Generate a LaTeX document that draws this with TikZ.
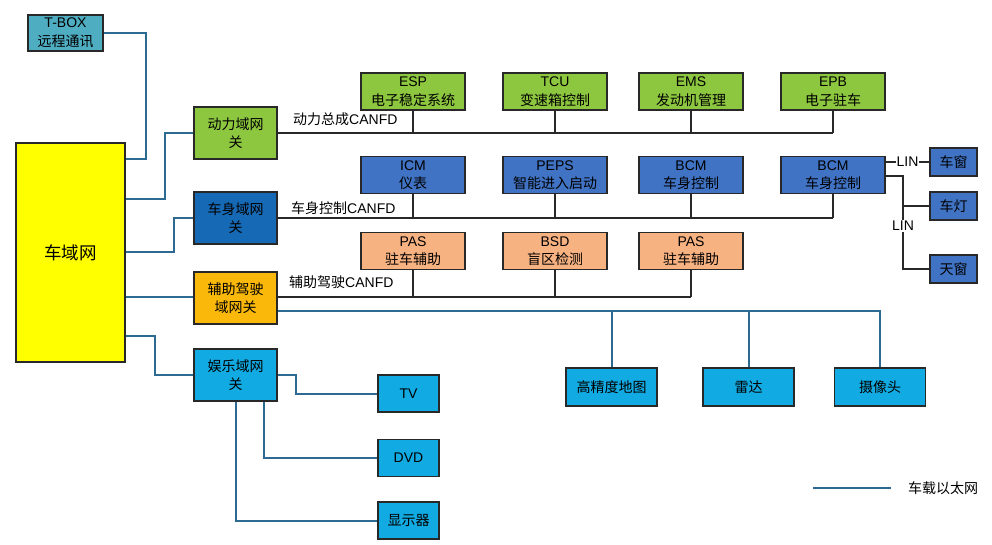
\documentclass[tikz,border=0pt]{standalone}
\usepackage{fontspec}
\setmainfont{Liberation Sans}
\newfontfamily\zh{Noto Sans CJK SC}
\definecolor{cTbox}{RGB}{79,173,194}
\definecolor{cYel}{RGB}{255,255,0}
\definecolor{cGrn}{RGB}{141,198,63}
\definecolor{cDBlu}{RGB}{22,105,180}
\definecolor{cBlu}{RGB}{64,115,196}
\definecolor{cOra}{RGB}{247,178,130}
\definecolor{cAmb}{RGB}{250,185,10}
\definecolor{cLBlu}{RGB}{17,170,226}
\definecolor{cEth}{RGB}{44,106,145}
\definecolor{cBord}{RGB}{40,40,40}
\definecolor{cCan}{RGB}{40,40,40}
\tikzset{
  box/.style={draw=cBord, line width=1.6pt, rectangle, inner sep=0pt, align=center,
    font=\fontsize{14}{18.5}\selectfont},
  ecu/.style={box, minimum width=104pt, minimum height=37pt},
  gw/.style={box, minimum width=83pt, minimum height=52pt},
  leaf/.style={box, minimum width=91pt, minimum height=38pt},
  ent/.style={box, fill=cLBlu, minimum width=61pt, minimum height=37pt},
  lin/.style={box, fill=cBlu, minimum width=47pt, minimum height=28pt},
  eth/.style={draw=cEth, line width=2pt},
  can/.style={draw=cCan, line width=1.3pt},
  linw/.style={draw=cCan, line width=1.1pt},
  lbl/.style={font=\fontsize{14}{16}\selectfont, inner sep=1pt},
}
\begin{document}
\begin{tikzpicture}[x=1pt, y=-1pt]
\useasboundingbox[fill=white] (0,0) rectangle (992,544);

% main nodes
\node[box, fill=cTbox, minimum width=75pt, minimum height=36pt] (tbox) at (65.5,33) {T-BOX\\{\zh 远程通讯}};
\node[box, fill=cYel, minimum width=109pt, minimum height=219pt, font=\fontsize{17.5}{20}\selectfont] (car) at (70.5,252.5) {{\zh 车域网}};

\node[gw, fill=cGrn] (pgw) at (235.5,133) {{\zh 动力域网}\\{\zh 关}};
\node[gw, fill=cDBlu] (bgw) at (235.5,218) {{\zh 车身域网}\\{\zh 关}};
\node[gw, fill=cAmb] (agw) at (235.5,298) {{\zh 辅助驾驶}\\{\zh 域网关}};
\node[gw, fill=cLBlu] (egw) at (235.5,375) {{\zh 娱乐域网}\\{\zh 关}};

% powertrain row
\node[ecu, fill=cGrn] (esp) at (413,91.5) {ESP\\{\zh 电子稳定系统}};
\node[ecu, fill=cGrn] (tcu) at (555,91.5) {TCU\\{\zh 变速箱控制}};
\node[ecu, fill=cGrn] (ems) at (691,91.5) {EMS\\{\zh 发动机管理}};
\node[ecu, fill=cGrn] (epb) at (833,91.5) {EPB\\{\zh 电子驻车}};

% body row
\node[ecu, fill=cBlu] (icm) at (413,175) {ICM\\{\zh 仪表}};
\node[ecu, fill=cBlu] (peps) at (555,175) {PEPS\\{\zh 智能进入启动}};
\node[ecu, fill=cBlu] (bcma) at (691,175) {BCM\\{\zh 车身控制}};
\node[ecu, fill=cBlu] (bcmb) at (833,175) {BCM\\{\zh 车身控制}};

% adas row
\node[ecu, fill=cOra] (pasa) at (413,251) {PAS\\{\zh 驻车辅助}};
\node[ecu, fill=cOra] (bsd) at (555,251) {BSD\\{\zh 盲区检测}};
\node[ecu, fill=cOra] (pasb) at (691,251) {PAS\\{\zh 驻车辅助}};

% LIN nodes
\node[lin] (win) at (953.5,162) {{\zh 车窗}};
\node[lin] (lamp) at (953.5,206) {{\zh 车灯}};
\node[lin] (sky) at (953.5,269) {{\zh 天窗}};

% ethernet leaves
\node[leaf, fill=cLBlu] (map) at (611.5,387) {{\zh 高精度地图}};
\node[leaf, fill=cLBlu] (radar) at (748.5,387) {{\zh 雷达}};
\node[leaf, fill=cLBlu] (cam) at (880,387) {{\zh 摄像头}};

% entertainment leaves
\node[ent] (tv) at (408.5,393.5) {TV};
\node[ent] (dvd) at (408.5,458) {DVD};
\node[ent] (disp) at (408.5,520.5) {{\zh 显示器}};

% ethernet connections from car network
\draw[eth] (car.east |- 0,159) -| ([xshift=42pt]tbox.east) -- (tbox.east);
\draw[eth] (car.east |- 0,199) -| (165,133) -- (pgw.west);
\draw[eth] (car.east |- 0,252) -| (174,218) -- (bgw.west);
\draw[eth] (car.east |- 0,297) -- (agw.west |- 0,297);
\draw[eth] (car.east |- 0,336) -| (155,375) -- (egw.west);

% CAN buses
\draw[can] (pgw.east) -- (epb.south |- pgw.east);
\foreach \n in {esp,tcu,ems,epb} \draw[can] (\n.south) -- (\n.south |- pgw.east);
\node[lbl, anchor=west] (lp) at (292,119) {{\zh 动力总成}CANFD};

\draw[can] (bgw.east) -- (bcmb.south |- bgw.east);
\foreach \n in {icm,peps,bcma,bcmb} \draw[can] (\n.south) -- (\n.south |- bgw.east);
\node[lbl, anchor=west] (lb) at (290,208) {{\zh 车身控制}CANFD};

\draw[can] (agw.east |- 0,297) -- (pasb.south |- 0,297);
\foreach \n in {pasa,bsd,pasb} \draw[can] (\n.south) -- (\n.south |- 0,297);
\node[lbl, anchor=west] (la) at (288,282) {{\zh 辅助驾驶}CANFD};

% LIN
\draw[linw] (bcmb.east |- win.west) -- node[lbl, fill=white, inner sep=0.5pt] {LIN} (win.west);
\draw[linw] (bcmb.east |- 0,176) -| (903,269) -- (sky.west);
\draw[linw] (903,206) -- (lamp.west);
\node[lbl, fill=white, inner sep=1.5pt] (lin2) at (903,226) {LIN};

% ethernet to adas sensors
\draw[eth] (agw.east |- 0,311) -| (cam.north);
\foreach \n in {map,radar} \draw[eth] (\n.north) -- (\n.north |- 0,311);

% entertainment
\draw[eth] (egw.east) -- (296,375) |- (tv.west);
\draw[eth] (egw.south -| 264,0) |- (dvd.west);
\draw[eth] (egw.south) |- (disp.west);

% legend
\coordinate (lg1) at (813,488);
\coordinate (lg2) at (891,488);
\draw[eth] (lg1) -- (lg2);
\node[lbl, anchor=west] (lgt) at (907,488) {{\zh 车载以太网}};
\end{tikzpicture}
\end{document}
